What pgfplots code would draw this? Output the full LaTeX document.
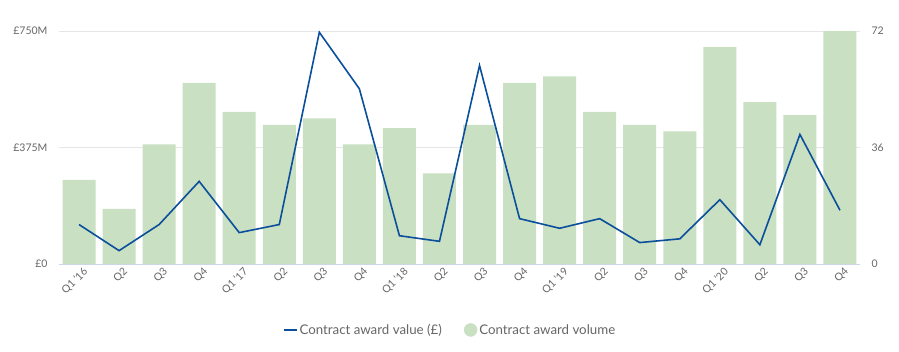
\documentclass[border=0pt]{standalone}
\usepackage{pgfplots}
\pgfplotsset{compat=1.18}
\usepackage{fontspec}
\setmainfont{Lato}
\definecolor{barc}{HTML}{C9E0C3}
\definecolor{linec}{HTML}{0B4F9C}
\definecolor{txt}{HTML}{666666}
\definecolor{gridc}{HTML}{E6E6E6}
\definecolor{axc}{HTML}{CCD6EB}
\begin{document}
\begin{tikzpicture}[x=1pt,y=1pt]
\path[use as bounding box] (-59,-87) rectangle (840,264);
\begin{axis}[at={(0,0)}, anchor=south west, scale only axis, width=801pt, height=233pt,
  xmin=-0.5, xmax=19.5, ymin=0, ymax=72,
  axis x line*=bottom, axis y line*=right,
  x axis line style={draw=axc, line width=0.8pt, -},
  y axis line style={draw=none},
  xtick={0,...,19},
  xticklabels={Q1 '16,Q2,Q3,Q4,Q1 '17,Q2,Q3,Q4,Q1 '18,Q2,Q3,Q4,Q1 '19,Q2,Q3,Q4,Q1 '20,Q2,Q3,Q4},
  x tick label style={rotate=45, anchor=north east, font=\fontsize{10.5}{12}\selectfont, text=txt, xshift=4pt, yshift=-1pt},
  ytick={0,36,72}, yticklabels={0,36,72},
  y tick label style={font=\fontsize{10.5}{12}\selectfont, text=txt, xshift=8pt},
  major tick length=0pt,
  ymajorgrids, grid style={gridc, line width=0.8pt},
  clip=false]
\addplot[ybar, bar width=33pt, bar shift=0pt, fill=barc, draw=none] coordinates {
(0,26) (1,17) (2,37) (3,56) (4,47) (5,43) (6,45) (7,37) (8,42) (9,28)
(10,43) (11,56) (12,58) (13,47) (14,43) (15,41) (16,67) (17,50) (18,46) (19,72)};
\end{axis}
\begin{axis}[at={(0,0)}, anchor=south west, scale only axis, width=801pt, height=233pt,
  xmin=-0.5, xmax=19.5, ymin=0, ymax=750,
  axis x line=none, axis y line*=left,
  y axis line style={draw=none},
  ytick={0,375,750}, yticklabels={£0,£375M,£750M},
  y tick label style={font=\fontsize{10.5}{12}\selectfont, text=txt, xshift=-8pt},
  major tick length=0pt,
  clip=false,
  legend style={at={(0.488,-0.283)}, anchor=center, draw=none, fill=none,
    font=\fontsize{13.3}{15}\selectfont, text=txt, legend columns=2,
    /tikz/every even column/.append style={column sep=20pt}},
  legend cell align=left]
\addplot[linec, line width=1.6pt, mark=none, legend image code/.code={\draw[linec, line width=2pt] (0pt,0pt) -- (13pt,0pt);}] coordinates {
(0,127) (1,43) (2,127) (3,266) (4,101) (5,127) (6,746) (7,564) (8,91) (9,73)
(10,639) (11,146) (12,115) (13,146) (14,69) (15,81) (16,207) (17,62) (18,417) (19,173)};
\addlegendentry{Contract award value (£)}
\addlegendimage{legend image code/.code={\fill[barc] (6.5pt,0pt) circle (6.5pt);}}
\addlegendentry{Contract award volume}
\end{axis}
\end{tikzpicture}
\end{document}
